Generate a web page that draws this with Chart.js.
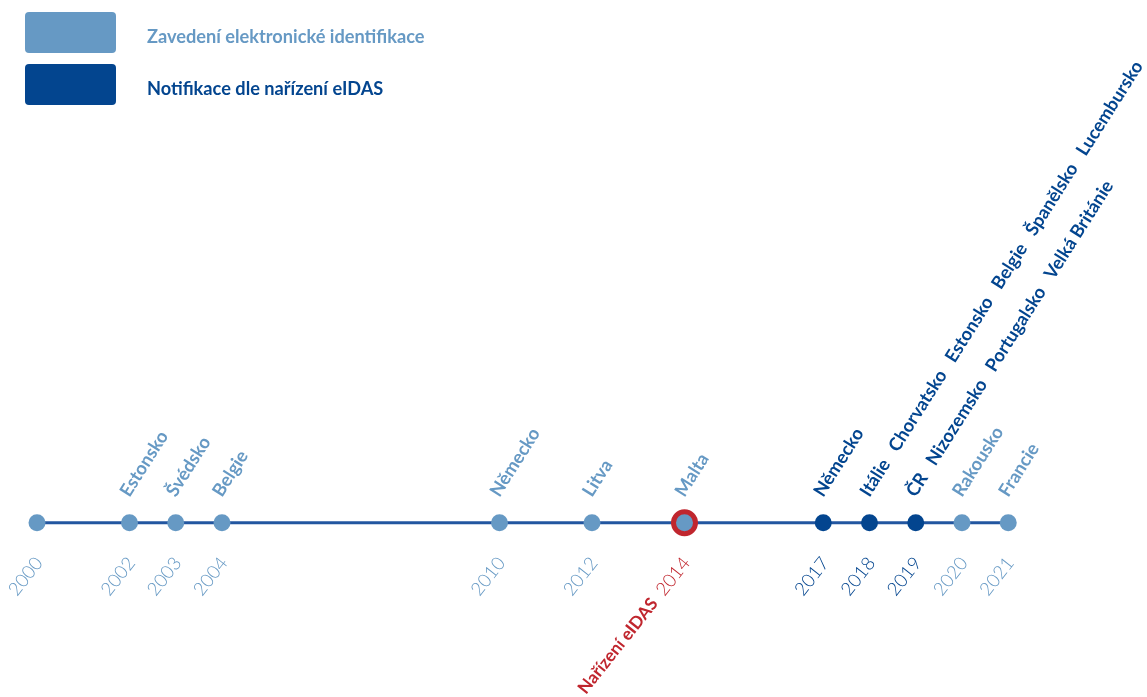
<!DOCTYPE html>
<html lang="cs">
  <head>
    <meta charset="utf-8">
    <title>Časová osa eID</title>
    <script src="https://cdn.jsdelivr.net/npm/chart.js"></script>
    <style>
      body { margin: 0; background: #fff; font-family: Lato, sans-serif; }
      #wrap { position: relative; width: 1147px; height: 697px; }
      .legend { position: absolute; left: 25px; }
      .legend .box { position: absolute; left: 0; top: 0; width: 91px; height: 41px; border-radius: 4px; }
      .legend span { position: absolute; left: 122px; top: 13px; white-space: nowrap; font-weight: bold; font-size: 18.2px; }
    </style>
    <script>
      // data
      var years = [2000, 2002, 2003, 2004, 2010, 2012, 2014, 2017, 2018, 2019, 2020, 2021];
      var countries = ['', 'Estonsko', 'Švédsko', 'Belgie', 'Německo', 'Litva', 'Malta', 'Německo',
        'Itálie   Chorvatsko   Estonsko   Belgie   Španělsko   Lucembursko',
        'ČR   Nizozemsko   Portugalsko   Velká Británie', 'Rakousko', 'Francie'];
      // 0 = zavedení eID, 1 = notifikace dle eIDAS
      var kinds = [0, 0, 0, 0, 0, 0, 0, 1, 1, 1, 0, 0];
      var seriesNames = ['Zavedení elektronické identifikace', 'Notifikace dle nařízení eIDAS'];
      var regulationYear = 2014;
      var regulationLabel = 'Nařízení eIDAS';

      var light = '#6699c4';
      var dark = '#03458f';
      var red = '#c0262e';
      var kindColors = [light, dark];
    </script>
  </head>
  <body>
    <div id="wrap">
      <canvas id="timeline"></canvas>
      <div class="legend" id="leg0" style="top:12px"><div class="box"></div><span></span></div>
      <div class="legend" id="leg1" style="top:64px"><div class="box"></div><span></span></div>
    </div>
    <script>
      seriesNames.forEach(function (name, i) {
        var el = document.getElementById('leg' + i);
        el.querySelector('.box').style.background = kindColors[i];
        var s = el.querySelector('span');
        s.textContent = name;
        s.style.color = kindColors[i];
      });

      var rad = function (d) { return d * Math.PI / 180; };

      var labelPlugin = {
        id: 'labels',
        afterDatasetsDraw: function (chart) {
          var ctx = chart.ctx;
          var xs = chart.scales.x, ys = chart.scales.y;
          var y0 = ys.getPixelForValue(0);
          years.forEach(function (yr, i) {
            var px = xs.getPixelForValue(yr);
            var col = kindColors[kinds[i]];
            // country label above
            if (countries[i]) {
              ctx.save();
              ctx.translate(px - 5, y0 - 28);
              ctx.rotate(-rad(57.6));
              ctx.font = 'bold 18.2px Lato';
              ctx.fillStyle = col;
              ctx.textAlign = 'left';
              ctx.textBaseline = 'middle';
              ctx.fillText(countries[i], 0, 0);
              ctx.restore();
            }
            // year label below
            ctx.save();
            ctx.translate(px + 2, y0 + 37);
            ctx.rotate(-rad(51.5));
            ctx.font = '300 18.5px Lato';
            ctx.textAlign = 'right';
            ctx.textBaseline = 'middle';
            ctx.fillStyle = yr === regulationYear ? red : col;
            ctx.fillText(String(yr), 0, 0);
            if (yr === regulationYear) {
              var w = ctx.measureText(String(yr)).width;
              ctx.font = 'bold 17.3px Lato';
              ctx.fillText(regulationLabel, -w - 9, 0);
            }
            ctx.restore();
          });
        }
      };

      var pts = years.map(function (yr) { return { x: yr, y: 0 }; });

      new Chart(document.getElementById('timeline'), {
        type: 'scatter',
        data: {
          datasets: [{
            data: pts,
            order: 0,
            pointBackgroundColor: kinds.map(function (k) { return kindColors[k]; }),
            pointBorderColor: years.map(function (yr, i) { return yr === regulationYear ? red : kindColors[kinds[i]]; }),
            pointBorderWidth: years.map(function (yr) { return yr === regulationYear ? 5 : 0; }),
            pointRadius: years.map(function (yr) { return yr === regulationYear ? 11 : 8.5; }),
            pointHoverRadius: years.map(function (yr) { return yr === regulationYear ? 11 : 8.5; })
          }, {
            data: [pts[0], pts[pts.length - 1]],
            order: 1,
            showLine: true,
            borderColor: '#2256a0',
            borderWidth: 3,
            pointRadius: 0
          }]
        },
        options: {
          responsive: true,
          maintainAspectRatio: false,
          animation: false,
          layout: { padding: 0, autoPadding: false },
          plugins: { legend: { display: false }, tooltip: { enabled: false } },
          scales: {
            x: { type: 'linear', display: false, min: 1999.2, max: 2024.0 },
            y: { display: false, min: -1, max: 3 }
          }
        },
        plugins: [labelPlugin]
      });
    </script>
  </body>
</html>
